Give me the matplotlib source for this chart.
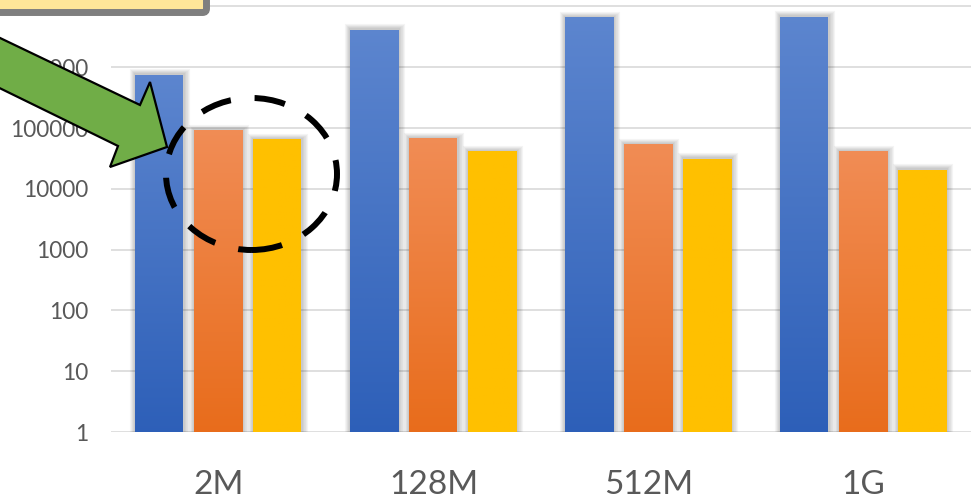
import numpy as np
import matplotlib
matplotlib.use("Agg")
import matplotlib.pyplot as plt
import matplotlib.patheffects as pe
from matplotlib.colors import LinearSegmentedColormap
from matplotlib.image import AxesImage
from matplotlib.patches import Polygon, Ellipse, FancyBboxPatch
from matplotlib.transforms import IdentityTransform, blended_transform_factory

# --- data -------------------------------------------------------------
categories = ["2M", "128M", "512M", "1G"]
series_a = [770000, 4200000, 6700000, 6900000]
series_b = [93000, 69000, 55000, 42000]
series_c = [66000, 42000, 32000, 21000]
ytick_values = [1, 10, 100, 1000, 10000, 100000, 1000000, 10000000]
ytick_labels = ["1", "10", "100", "1000", "10000", "100000", "1000000", "10000000"]

# (top colour, bottom colour) for each series
series_colors = [("#5D86CF", "#2D5FB8"),
                 ("#F18D56", "#E86C1B"),
                 ("#FFC000", "#FFC000")]

W, H = 979, 498
plt.rcParams["font.family"] = ["Lato", "DejaVu Sans"]
fig = plt.figure(figsize=(W / 100, H / 100), dpi=100)
fig.patch.set_facecolor("white")

ax = fig.add_axes([111 / W, 66 / H, 860 / W, 432 / H])
ax.set_yscale("log")
ax.set_xlim(-0.5, len(categories) - 0.5)
ax.set_ylim(1, 10 ** (432 / 60.8))
ax.set_autoscale_on(False)

for s in ax.spines.values():
    s.set_visible(False)
ax.set_axisbelow(True)
ax.set_yticks(ytick_values)
ax.set_yticklabels(ytick_labels)
ax.minorticks_off()
ax.yaxis.grid(True, color="#D9D9D9", linewidth=1.2)
ax.tick_params(axis="y", length=0, pad=16, labelsize=16.3, labelcolor="#595959")
ax.set_xticks(range(len(categories)))
ax.set_xticklabels(categories)
ax.tick_params(axis="x", length=0, pad=27, labelsize=24, labelcolor="#595959")

x = np.arange(len(categories))
step = 59 / 215
width = 49 / 215
# soft drop shadow around each bar
shadow = [pe.Stroke(linewidth=lw, foreground="black", alpha=0.045)
          for lw in (8.0, 6.4, 4.8, 3.2, 1.6)]

to_axes = ax.transScale + ax.transLimits
blend = blended_transform_factory(ax.transData, ax.transAxes)
grad = np.linspace(0, 1, 256).reshape(-1, 1)

for i, (vals, (ctop, cbot)) in enumerate(zip([series_a, series_b, series_c], series_colors)):
    bars = ax.bar(x + (i - 1) * step, vals, width=width, bottom=1,
                  facecolor="none", linewidth=0, zorder=2)
    cmap = LinearSegmentedColormap.from_list(f"g{i}", [cbot, ctop])
    for rect, v in zip(bars, vals):
        rect.set_path_effects(shadow)
        top = to_axes.transform((0, v))[1]
        x0 = rect.get_x()
        im = AxesImage(ax, cmap=cmap, origin="lower", interpolation="bilinear",
                       extent=(x0 - 0.01, x0 + rect.get_width() + 0.01, -0.01, top + 0.01))
        im.set_data(grad)
        im.set_transform(blend)
        im.set_clip_path(rect)
        im.set_zorder(3)
        ax.add_image(im)

# --- annotation layer (pixel coordinates, origin at the top-left) -------
def px(xp, yp):
    return (xp, H - yp)

ident = IdentityTransform()

box = FancyBboxPatch(px(-30, 12.5), 236.5, 45,
                     boxstyle="round,pad=0,rounding_size=4",
                     facecolor="#FFE699", edgecolor="#7F7F7F", linewidth=5.0,
                     transform=ident, zorder=10)
fig.patches.append(box)

arrow_pts = [px(-30, 23.6), px(140, 105), px(150, 82), px(167, 147),
             px(110, 167), px(118, 146), px(-30, 73.6)]
arrow = Polygon(arrow_pts, closed=True, facecolor="#70AD47", edgecolor="black",
                linewidth=1.6, joinstyle="miter", transform=ident, zorder=10)
fig.patches.append(arrow)

ring = Ellipse(px(251.5, 174), 171, 152, fill=False, edgecolor="black",
               linewidth=4.3, linestyle=(0, (5.2, 4.0)), capstyle="butt",
               transform=ident, zorder=11)
fig.patches.append(ring)

fig.savefig("out.png", dpi=100, facecolor="white")
